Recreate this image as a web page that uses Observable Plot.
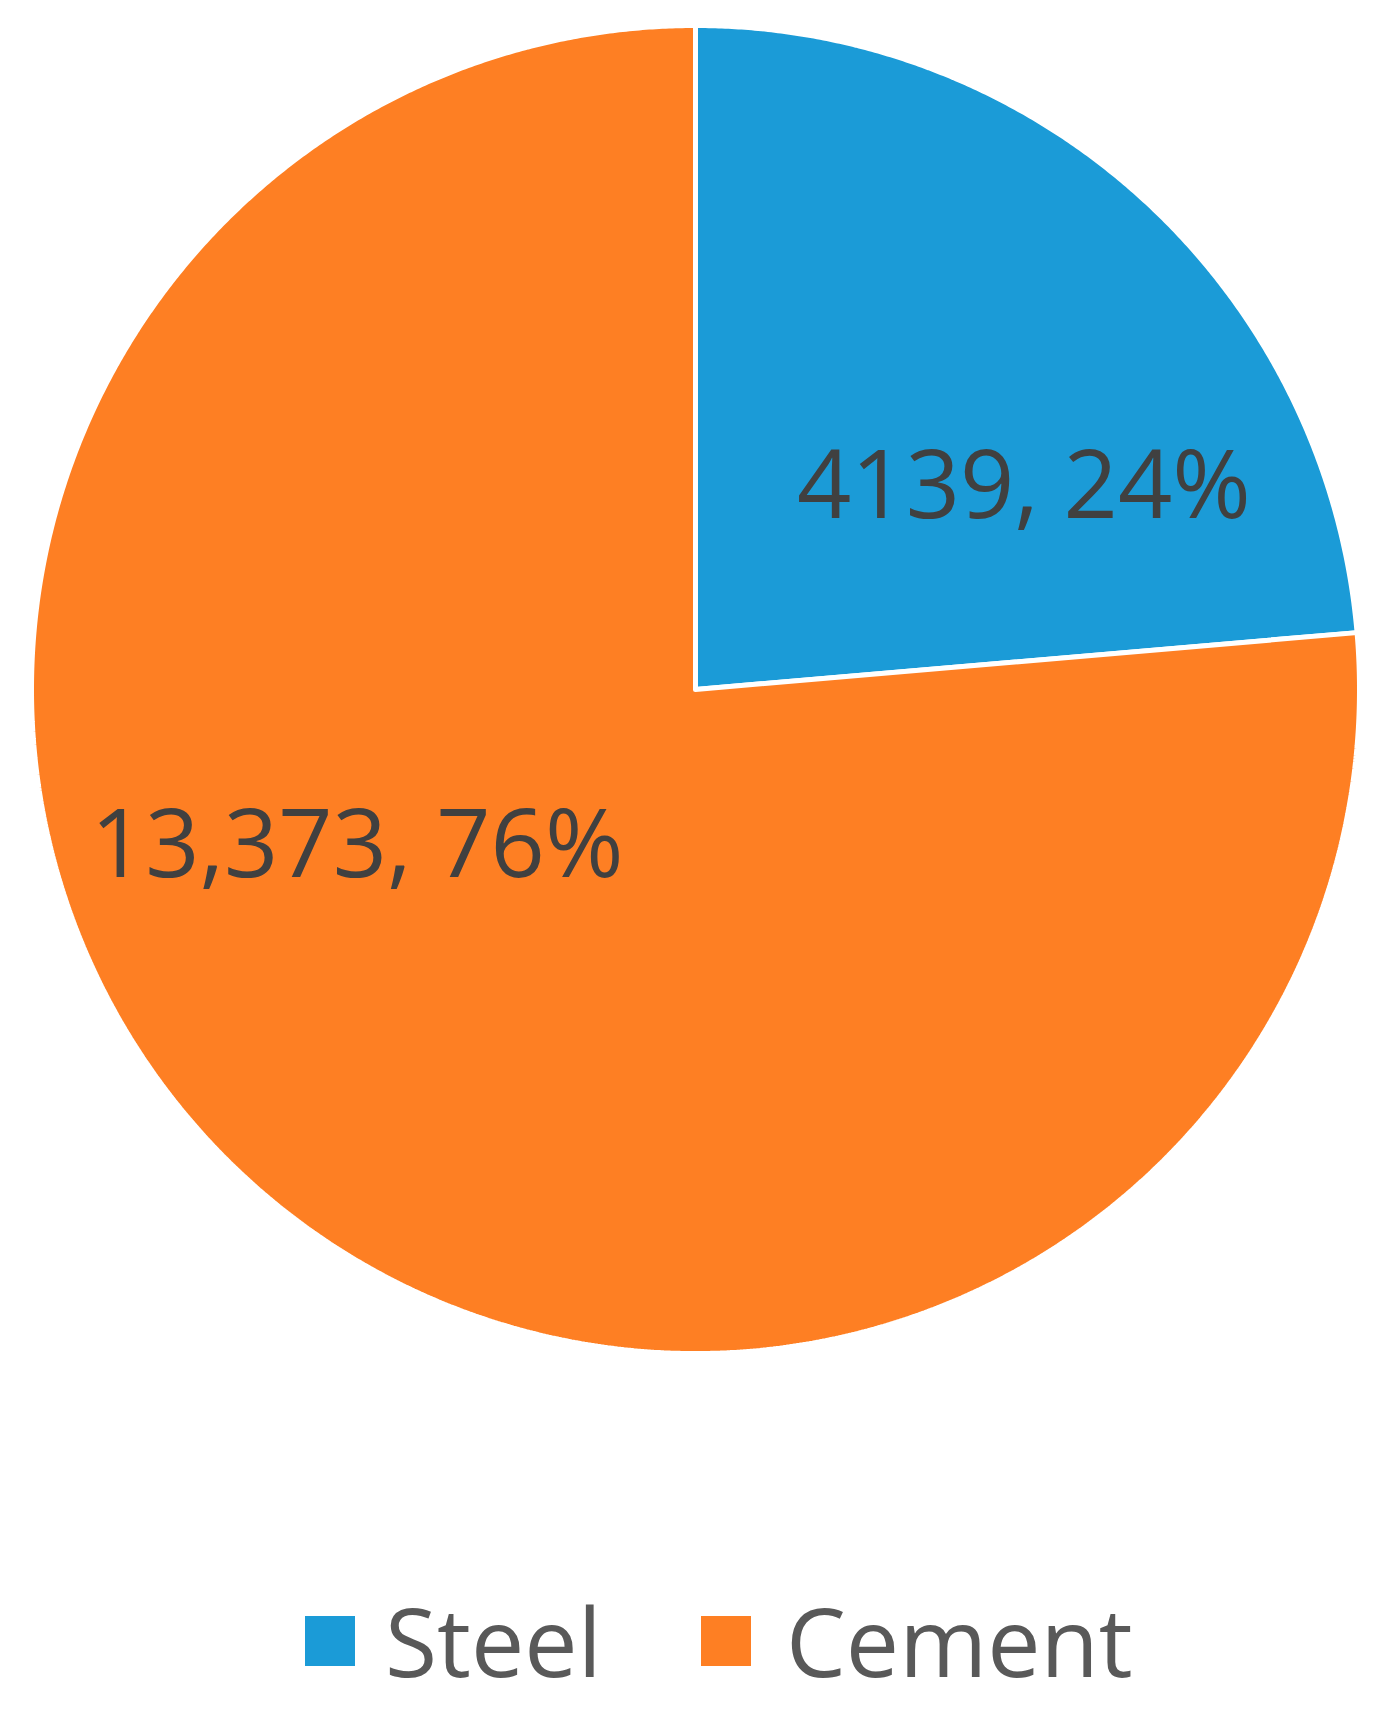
<!DOCTYPE html>
<html>
<head>
<meta charset="utf-8">
<script src="https://cdn.jsdelivr.net/npm/d3@7"></script>
<script src="https://cdn.jsdelivr.net/npm/@observablehq/plot@0.6"></script>
<style>
  html, body { margin: 0; padding: 0; background: #fff; }
  #wrap { position: relative; width: 1380px; height: 1730px; font-family: "Open Sans", sans-serif; }
  #legend { position: absolute; left: 0; top: 1590px; width: 1380px; height: 100px; }
  .sw { position: absolute; top: 26px; width: 50px; height: 50px; }
  .lt { position: absolute; top: 0px; font-size: 95px; line-height: 100px; color: #595959; }
</style>
</head>
<body>
<div id="wrap"><div id="chart"></div><div id="legend"></div></div>
<script>
const categories = ["Steel", "Cement"];
const values = [4139, 13373];
const labels = ["4139, 24%", "13,373, 76%"];
const colors = ["#1b9bd7", "#fe7f23"];

const data = categories.map((c, i) => ({cat: c, value: values[i], label: labels[i]}));
const arcs = d3.pie().sort(null).value(d => d.value).startAngle(0).endAngle(2 * Math.PI)(data);

// polygon points for each slice (unit circle, angle clockwise from top)
const pts = [];
for (const a of arcs) {
  pts.push({cat: a.data.cat, x: 0, y: 0});
  const n = Math.max(2, Math.ceil((a.endAngle - a.startAngle) / 0.005));
  for (let k = 0; k <= n; k++) {
    const t = a.startAngle + (a.endAngle - a.startAngle) * k / n;
    pts.push({cat: a.data.cat, x: Math.sin(t), y: Math.cos(t)});
  }
  pts.push({cat: a.data.cat, x: 0, y: 0});
}
const lab = arcs.map(a => {
  const m = (a.startAngle + a.endAngle) / 2;
  return {cat: a.data.cat, label: a.data.label, x: 0.6 * Math.sin(m), y: 0.6 * Math.cos(m)};
});

const chart = Plot.plot({
  width: 1380,
  height: 1560,
  margin: 0,
  x: {domain: [-1, 1], range: [31, 1359], axis: null},
  y: {domain: [-1, 1], range: [1353, 25], axis: null},
  color: {domain: categories, range: colors},
  marks: [
    Plot.line(pts, {x: "x", y: "y", z: "cat", fill: "cat", stroke: "white", strokeWidth: 5, strokeLinejoin: "miter", curve: "linear"}),
    Plot.text(lab.filter(d => d.cat === "Steel"), {x: "x", y: "y", text: "label", dx: 59, dy: 92, fontSize: 95, fill: "#404040", fontFamily: "Open Sans"}),
    Plot.text(lab.filter(d => d.cat === "Cement"), {x: "x", y: "y", text: "label", dx: -69, dy: -136, fontSize: 95, fill: "#404040", fontFamily: "Open Sans"})
  ]
});
document.getElementById("chart").appendChild(chart);

const leg = document.getElementById("legend");
const swX = [305, 701], txX = [385, 786];
categories.forEach((c, i) => {
  const s = document.createElement("div");
  s.className = "sw"; s.style.left = swX[i] + "px"; s.style.background = colors[i];
  leg.appendChild(s);
  const t = document.createElement("div");
  t.className = "lt"; t.style.left = txX[i] + "px"; t.textContent = c;
  leg.appendChild(t);
});
</script>
</body>
</html>
